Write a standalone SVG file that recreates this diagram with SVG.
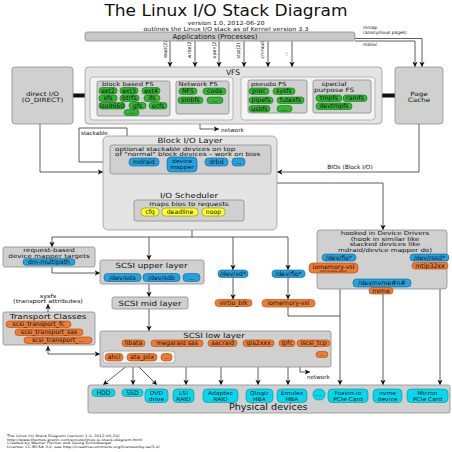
<svg xmlns="http://www.w3.org/2000/svg" width="452" height="452" viewBox="0 0 452 452">
<defs>
<style>
text{font-family:"DejaVu Sans","Liberation Sans",sans-serif;fill:#111}
.m{text-anchor:middle}
.h{font-size:7.2px}
.n{font-size:6px}
.L{font-size:7.2px}
.p{font-size:6.2px;text-anchor:middle}
.q{font-size:5.3px;text-anchor:middle}
.s{font-size:4.8px}
.box{fill:#d0d0d0;stroke:#8e8e8e;stroke-width:0.8}
.outer{fill:#e4e4e4;stroke:#9a9a9a;stroke-width:0.8}
.inner{fill:#f4f4f4;stroke:#a8a8a8;stroke-width:0.8}
.g{fill:#2fb52f;stroke:#1b6e1b;stroke-width:0.6}
.b{fill:#23a2e2;stroke:#125f8c;stroke-width:0.6}
.o{fill:#f07a30;stroke:#a84a10;stroke-width:0.6}
.y{fill:#ffff30;stroke:#8a8a00;stroke-width:0.6}
.c{fill:#02d8ee;stroke:#0a8ea0;stroke-width:0.6}
.ln{fill:none;stroke:#333;stroke-width:0.8}
.a{marker-end:url(#ah)}
.bar{fill:#111}
</style>
<marker id="ah" viewBox="0 0 10 10" refX="10" refY="5" markerWidth="5.5" markerHeight="5.5" markerUnits="userSpaceOnUse" orient="auto"><path d="M0,0 L10,5 L0,10 L3,5 z" fill="#111"/></marker>
</defs>
<rect width="452" height="452" fill="#fff"/>

<g id="title">
<text transform="translate(226,16) scale(1.05,1)" class="m" font-size="16.2">The Linux I/O Stack Diagram</text>
<text transform="translate(226,25) scale(1.15,1)" class="m" font-size="5.6">version 1.0, 2012-06-20</text>
<text transform="translate(226,30.8) scale(1.15,1)" class="m" font-size="5.6">outlines the Linux I/O stack as of Kernel version 3.3</text>
</g>

<g id="connectors">
<path class="ln a" d="M170,41V67"/>
<path class="ln a" d="M195,41V67"/>
<path class="ln a" d="M219,41V67"/>
<path class="ln a" d="M244,41V67"/>
<path class="ln a" d="M268,41V67"/>
<path class="ln a" d="M292,41V67"/>
<path class="ln a" d="M355,38.5H422V67"/>
<path class="ln a" d="M355,41H415V67"/>
<rect class="bar" x="73" y="93.5" width="12" height="4"/>
<rect class="bar" x="382" y="93.5" width="13" height="4"/>
<path class="ln a" d="M200,114V129H219"/>
<path class="ln a" d="M110,162H79V128H127V141"/>
<path class="ln a" d="M40,124V172H103"/>
<path class="ln a" d="M419,124V172H277"/>
<path class="ln a" d="M192,172V192"/>
<path class="ln a" d="M192,183H383V230"/>
<path class="ln" d="M192,221V237M52,237H288"/>
<path class="ln a" d="M52,237V247"/>
<path class="ln a" d="M149,237V260"/>
<path class="ln a" d="M233,237V270"/>
<path class="ln a" d="M288,237V270"/>
<path class="ln a" d="M52,267V273H100"/>
<path class="ln a" d="M149,284V297"/>
<path class="ln a" d="M149,309V331"/>
<path class="ln a" d="M48,312V304"/>
<path class="ln a" d="M48,354V346"/>
<path class="ln a" d="M48,354H100"/>
<path class="ln a" d="M233,277.5V299.5"/>
<path class="ln a" d="M288,277.5V299.5"/>
<path class="ln" d="M288,307V316H340"/>
<path class="ln a" d="M340,273V385"/>
<path class="ln a" d="M383,294V385"/>
<path class="ln a" d="M440,269V385"/>
<path class="ln a" d="M133,361L103,385"/>
<path class="ln a" d="M133,361V385"/>
<path class="ln a" d="M133,361L157,385"/>
<path class="ln a" d="M186,346.5V385"/>
<path class="ln a" d="M221,346.5V385"/>
<path class="ln a" d="M258,346.5V385"/>
<path class="ln a" d="M288,346.5V385"/>
<path class="ln a" d="M300,346.5V372H310"/>
</g>

<g id="connector-labels">
<g class="s">
<text transform="translate(166.5,58.5) rotate(-90)">read(2)</text>
<text transform="translate(191,58.5) rotate(-90)">write(2)</text>
<text transform="translate(215.5,58.5) rotate(-90)">open(2)</text>
<text transform="translate(240,58.5) rotate(-90)">stat(2)</text>
<text transform="translate(264,58.5) rotate(-90)">chmod(2)</text>
<text transform="translate(287,56) rotate(-90)">...</text>
</g>
<text x="363" y="29" font-size="4.4">mmap</text>
<text x="363" y="33.5" font-size="4.4">(anonymous pages)</text>
<text x="363" y="46" font-size="4.4">malloc</text>
<text x="221" y="131.5" font-size="5.6">network</text>
<text x="81" y="135" font-size="5.6">stackable</text>
<text x="350" y="169" class="m" font-size="5.8">BIOs (Block I/O)</text>
<text transform="translate(48,297.5) scale(1.2,1)" class="m" font-size="5.5">sysfs</text>
<text transform="translate(48,303) scale(1.2,1)" class="m" font-size="5.5">(transport attributes)</text>
<text x="307" y="378.5" font-size="5.6">network</text>
</g>

<g id="applications">
<rect x="85" y="32" width="270" height="9" rx="2.5" fill="#c8c8c8" stroke="#8a8a8a" stroke-width="0.8"/>
<text x="215" y="39.3" class="m" font-size="7">Applications (Processes)</text>
</g>

<g id="direct-io">
<rect class="box" x="12" y="67" width="61" height="57" rx="3"/>
<text transform="translate(42.5,96) scale(1.2,1)" class="m n">direct I/O</text>
<text transform="translate(42.5,102) scale(1.2,1)" class="m n">(O_DIRECT)</text>
</g>

<g id="page-cache">
<rect class="box" x="395" y="67" width="48" height="57" rx="3"/>
<text transform="translate(419,96) scale(1.2,1)" class="m n">Page</text>
<text transform="translate(419,102) scale(1.2,1)" class="m n">Cache</text>
</g>

<g id="vfs">
<rect class="outer" x="85" y="67" width="297" height="57" rx="4"/>
<text x="233" y="74.5" class="m" font-size="7.6">VFS</text>
<rect class="inner" x="90" y="77" width="143" height="43" rx="3"/>
<rect class="inner" x="241" y="77" width="134" height="43" rx="3"/>
</g>

<g id="block-based-fs">
<rect class="box" x="97" y="81" width="73" height="35" rx="2"/>
<text transform="translate(102,85.7) scale(1.23,1)" font-size="5.6">block based FS</text>
<rect class="g" x="99" y="87.5" width="18" height="6.5" rx="3"/><text x="108" y="93" class="p">ext2</text>
<rect class="g" x="120" y="87.5" width="18" height="6.5" rx="3"/><text x="129" y="93" class="p">ext3</text>
<rect class="g" x="142" y="87.5" width="18" height="6.5" rx="3"/><text x="151" y="93" class="p">ext4</text>
<rect class="g" x="99" y="95" width="18" height="6.5" rx="3"/><text x="108" y="100.3" class="p">xfs</text>
<rect class="g" x="120" y="95" width="19" height="6.5" rx="3"/><text x="129.5" y="100.3" class="p">btrfs</text>
<rect class="g" x="144" y="95" width="16" height="6.5" rx="3"/><text x="152" y="100.3" class="p">ifs</text>
<rect class="g" x="99" y="102.5" width="26" height="6.5" rx="3"/><text x="112" y="107.8" class="p">iso9660</text>
<rect class="g" x="129" y="102.5" width="17" height="6.5" rx="3"/><text x="137.5" y="107.8" class="p">gfs</text>
<rect class="g" x="149" y="102.5" width="18" height="6.5" rx="3"/><text x="158" y="107.8" class="p">ocfs</text>
<rect class="g" x="124" y="109.5" width="15" height="6" rx="3"/><text x="131.5" y="114.3" class="p">...</text>
</g>

<g id="network-fs">
<rect class="box" x="176" y="81" width="53" height="33" rx="2"/>
<text transform="translate(178.5,86) scale(1.23,1)" font-size="5.6">Network FS</text>
<rect class="g" x="179" y="88" width="18" height="6.5" rx="3"/><text x="188" y="93.3" class="p">NFS</text>
<rect class="g" x="203" y="88" width="23" height="6.5" rx="3"/><text x="214.5" y="93.3" class="p">coda</text>
<rect class="g" x="178" y="97" width="25" height="6.5" rx="3"/><text x="190.5" y="102.3" class="p">smbfs</text>
<rect class="g" x="207" y="97" width="16" height="6.5" rx="3"/><text x="215" y="102.3" class="p">...</text>
</g>

<g id="pseudo-fs">
<rect class="box" x="248" y="80" width="59" height="33" rx="2"/>
<text transform="translate(251,85.7) scale(1.23,1)" font-size="5.6">pseudo FS</text>
<rect class="g" x="249" y="88" width="20" height="6.5" rx="3"/><text x="259" y="93.3" class="p">proc</text>
<rect class="g" x="273" y="88" width="22" height="6.5" rx="3"/><text x="284" y="93.3" class="p">sysfs</text>
<rect class="g" x="249" y="97" width="24" height="6.5" rx="3"/><text x="261" y="102.3" class="p">pipefs</text>
<rect class="g" x="277" y="97" width="27" height="6.5" rx="3"/><text x="290.5" y="102.3" class="p">futexfs</text>
<rect class="g" x="249" y="105.5" width="21" height="6.5" rx="3"/><text x="259.5" y="110.8" class="p">usbfs</text>
<rect class="g" x="277" y="105.5" width="15" height="6.5" rx="3"/><text x="284.5" y="110.8" class="p">...</text>
</g>

<g id="special-fs">
<rect class="box" x="313" y="80" width="58" height="33" rx="2"/>
<text transform="translate(334,86) scale(1.2,1)" class="m n">special</text>
<text transform="translate(334,92) scale(1.2,1)" class="m n">purpose FS</text>
<rect class="g" x="316" y="95" width="26" height="6.5" rx="3"/><text x="329" y="100.3" class="p">tmpfs</text>
<rect class="g" x="343" y="95" width="24" height="6.5" rx="3"/><text x="355" y="100.3" class="p">ramfs</text>
<rect class="g" x="316" y="103" width="36" height="6.5" rx="3"/><text x="334" y="108.3" class="p">devtmpfs</text>
</g>

<g id="block-io-layer">
<rect class="outer" x="103" y="136" width="174" height="94" rx="5"/>
<text transform="translate(190,143) scale(1.2,1)" class="m L">Block I/O Layer</text>
</g>

<g id="stackable-devices">
<rect class="box" x="110" y="145" width="161" height="29" rx="2"/>
<text transform="translate(115,150.8) scale(1.28,1)" font-size="5.6">optional stackable devices on top</text>
<text transform="translate(115,156.3) scale(1.28,1)" font-size="5.6">of "normal" block devices – work on bios</text>
<rect class="b" x="129" y="158" width="30" height="8" rx="3.5"/><text x="144" y="164" class="p">mdraid</text>
<rect class="b" x="167" y="157" width="30" height="15" rx="4"/><text transform="translate(182,163.2) scale(1.15,1)" class="q">device</text><text transform="translate(182,169.2) scale(1.15,1)" class="q">mapper</text>
<rect class="b" x="205" y="158" width="23" height="8" rx="3.5"/><text x="216.5" y="164" class="p">drbd</text>
<rect class="b" x="232" y="158" width="13" height="8" rx="3.5"/><text x="238.5" y="164" class="p">...</text>
</g>

<g id="io-scheduler">
<text transform="translate(189,198) scale(1.2,1)" class="m L">I/O Scheduler</text>
<rect class="box" x="134" y="200" width="110" height="21" rx="2"/>
<text transform="translate(189,206.3) scale(1.2,1)" class="m n">maps bios to requests</text>
<rect class="y" x="141" y="208" width="18" height="8" rx="3.5"/><text x="150" y="214" class="p">cfq</text>
<rect class="y" x="162" y="208" width="36" height="8" rx="3.5"/><text x="180" y="214" class="p">deadline</text>
<rect class="y" x="202" y="208" width="23" height="8" rx="3.5"/><text x="213.5" y="214" class="p">noop</text>
</g>

<g id="request-based-dm">
<rect class="box" x="3" y="247" width="92" height="20" rx="2"/>
<text transform="translate(49,252.3) scale(1.28,1)" class="m" font-size="5.6">request-based</text>
<text transform="translate(49,257.8) scale(1.28,1)" class="m" font-size="5.6">device mapper targets</text>
<rect class="b" x="23" y="258.7" width="52" height="6.5" rx="3"/><text x="49" y="264" class="p">dm-multipath</text>
</g>

<g id="scsi-upper">
<rect class="box" x="100" y="260" width="104" height="24" rx="2"/>
<text transform="translate(151.5,268) scale(1.2,1)" class="m L">SCSI upper layer</text>
<rect class="b" x="104" y="273.5" width="37" height="8" rx="3.5"/><text x="122.5" y="279.5" class="p">/dev/sda</text>
<rect class="b" x="143" y="273.5" width="37" height="8" rx="3.5"/><text x="161.5" y="279.5" class="p">/dev/sdb</text>
<rect class="b" x="183" y="273.5" width="17" height="8" rx="3.5"/><text x="191.5" y="279.5" class="p">...</text>
</g>

<g id="scsi-mid">
<rect class="box" x="112" y="297" width="76" height="12" rx="2"/>
<text transform="translate(150,305.8) scale(1.2,1)" class="m L">SCSI mid layer</text>
</g>

<g id="transport-classes">
<rect class="box" x="3" y="312" width="92" height="33" rx="2"/>
<text transform="translate(48,318.8) scale(1.25,1)" class="m" font-size="7">Transport Classes</text>
<rect class="o" x="6" y="321" width="65" height="6.5" rx="3"/><text x="38.5" y="326.3" class="p">scsi_transport_fc</text>
<rect class="o" x="15" y="329" width="68" height="6.5" rx="3"/><text x="49" y="334.3" class="p">scsi_transport_sas</text>
<rect class="o" x="24" y="337" width="68" height="6.5" rx="3"/><text x="58" y="342.3" class="p">scsi_transport_...</text>
</g>

<g id="scsi-low">
<rect class="box" x="100" y="331" width="231" height="36" rx="2"/>
<text transform="translate(214,337.8) scale(1.2,1)" class="m L">SCSI low layer</text>
<rect class="o" x="122" y="340" width="23" height="6.5" rx="3"/><text x="133.5" y="345.3" class="p">libata</text>
<rect class="o" x="151" y="340" width="52" height="6.5" rx="3"/><text x="177" y="345.3" class="p">megaraid sas</text>
<rect class="o" x="208" y="340" width="29" height="6.5" rx="3"/><text x="222.5" y="345.3" class="p">aacraid</text>
<rect class="o" x="243" y="340" width="31" height="6.5" rx="3"/><text x="258.5" y="345.3" class="p">qla2xxx</text>
<rect class="o" x="279" y="340" width="16" height="6.5" rx="3"/><text x="287" y="345.3" class="p">lpfc</text>
<rect class="o" x="297" y="340" width="33" height="6.5" rx="3"/><text x="313.5" y="345.3" class="p">iscsi_tcp</text>
<rect class="o" x="316" y="351.5" width="12" height="6" rx="3"/><text x="322" y="355.8" class="m" font-size="4.5">...</text>
<rect class="inner" x="103" y="351" width="72" height="12" rx="3.5"/>
<rect class="o" x="105" y="353.5" width="18" height="7.5" rx="3.5"/><text x="114" y="359.3" class="p">ahci</text>
<rect class="o" x="127" y="353.5" width="30" height="7.5" rx="3.5"/><text x="142" y="359.3" class="p">ata_piix</text>
<rect class="o" x="161" y="353.5" width="11" height="7.5" rx="3.5"/><text x="166.5" y="358.6" class="m" font-size="4.5">...</text>
</g>

<g id="virtio">
<rect class="b" x="218" y="270" width="30" height="7.5" rx="3.5"/><text x="233" y="275.9" class="p">/dev/vd*</text>
<rect class="o" x="215" y="299.5" width="37" height="7" rx="3.5"/><text x="233.5" y="305.2" class="p">virtio_blk</text>
</g>

<g id="fio-block">
<rect class="b" x="272" y="270" width="33" height="7.5" rx="3.5"/><text x="288.5" y="275.9" class="p">/dev/fio*</text>
<rect class="o" x="262" y="299.5" width="53" height="7.5" rx="3.5"/><text x="288.5" y="305.4" class="p">iomemory-vsl</text>
</g>

<g id="device-drivers">
<rect class="box" x="317" y="230" width="130" height="59" rx="3"/>
<text transform="translate(385,235.3) scale(1.26,1)" class="m" font-size="5.6">hooked in Device Drivers</text>
<text transform="translate(385,240.7) scale(1.26,1)" class="m" font-size="5.6">(hook in similar like</text>
<text transform="translate(385,246.1) scale(1.26,1)" class="m" font-size="5.6">stacked devices like</text>
<text transform="translate(385,251.5) scale(1.26,1)" class="m" font-size="5.6">mdraid/device mapper do)</text>
<rect class="b" x="322" y="254" width="34" height="7" rx="3.5"/><text x="339" y="259.7" class="p">/dev/fio*</text>
<rect class="o" x="309" y="263" width="49" height="10" rx="4"/><text x="333.5" y="268.5" class="p">iomemory-vsl</text><text x="333.5" y="272" class="m" font-size="2.8">with module option</text>
<rect class="b" x="410" y="254" width="39" height="7" rx="3.5"/><text x="429.5" y="259.7" class="p">/dev/rssd*</text>
<rect class="o" x="412" y="262.5" width="36" height="6.5" rx="3"/><text x="430" y="267.8" class="p">mtip32xx</text>
<rect class="b" x="353" y="279" width="58" height="8" rx="3.5"/><text x="382" y="285" class="p">/dev/nvme#n#</text>
<rect class="o" x="369" y="287.5" width="24" height="6.5" rx="3"/><text x="381" y="292.8" class="p">nvme</text>
</g>

<g id="physical-devices">
<rect class="box" x="88" y="385" width="362" height="28" rx="2"/>
<text transform="translate(229,410.3) scale(1.2,1)" font-size="8">Physical devices</text>
<rect class="c" x="92" y="389" width="23" height="7.5" rx="3.5"/><text x="103.5" y="395" class="p">HDD</text>
<rect class="c" x="122" y="389" width="21" height="7.5" rx="3.5"/><text x="132.5" y="395" class="p">SSD</text>
<rect class="c" x="145" y="389" width="23" height="13.5" rx="4"/><text transform="translate(156.5,394.6) scale(1.15,1)" class="q">DVD</text><text transform="translate(156.5,400.6) scale(1.15,1)" class="q">drive</text>
<rect class="c" x="173" y="389" width="21" height="13.5" rx="4"/><text transform="translate(183.5,394.6) scale(1.15,1)" class="q">LSI</text><text transform="translate(183.5,400.6) scale(1.15,1)" class="q">RAID</text>
<rect class="c" x="203" y="389" width="35" height="13.5" rx="4"/><text transform="translate(220.5,394.6) scale(1.15,1)" class="q">Adaptec</text><text transform="translate(220.5,400.6) scale(1.15,1)" class="q">RAID</text>
<rect class="c" x="246" y="389" width="27" height="13.5" rx="4"/><text transform="translate(259.5,394.6) scale(1.15,1)" class="q">Qlogic</text><text transform="translate(259.5,400.6) scale(1.15,1)" class="q">HBA</text>
<rect class="c" x="277" y="389" width="30" height="13.5" rx="4"/><text transform="translate(292,394.6) scale(1.15,1)" class="q">Emulex</text><text transform="translate(292,400.6) scale(1.15,1)" class="q">HBA</text>
<rect class="c" x="313" y="389" width="12" height="11" rx="5"/><text x="319" y="396" class="p">...</text>
<rect class="c" x="328" y="389" width="40" height="13.5" rx="4"/><text transform="translate(348,394.6) scale(1.15,1)" class="q">Fusion-io</text><text transform="translate(348,400.6) scale(1.15,1)" class="q">PCIe Card</text>
<rect class="c" x="373" y="389" width="29" height="13.5" rx="4"/><text transform="translate(387.5,394.6) scale(1.15,1)" class="q">nvme</text><text transform="translate(387.5,400.6) scale(1.15,1)" class="q">device</text>
<rect class="c" x="407" y="389" width="41" height="13.5" rx="4"/><text transform="translate(427.5,394.6) scale(1.15,1)" class="q">Micron</text><text transform="translate(427.5,400.6) scale(1.15,1)" class="q">PCIe Card</text>
</g>

<g id="footer" font-size="3.3">
<text transform="translate(7,437) scale(1.25,1)">The Linux I/O Stack Diagram (version 1.0, 2012-06-20)</text>
<text transform="translate(7,440.5) scale(1.25,1)">http://www.thomas-krenn.com/en/oss/linux-io-stack-diagram.html</text>
<text transform="translate(7,444) scale(1.25,1)">Created by Werner Fischer and Georg Schönberger</text>
<text transform="translate(7,447.5) scale(1.25,1)">License: CC-BY-SA 3.0, see http://creativecommons.org/licenses/by-sa/3.0/</text>
</g>
</svg>
